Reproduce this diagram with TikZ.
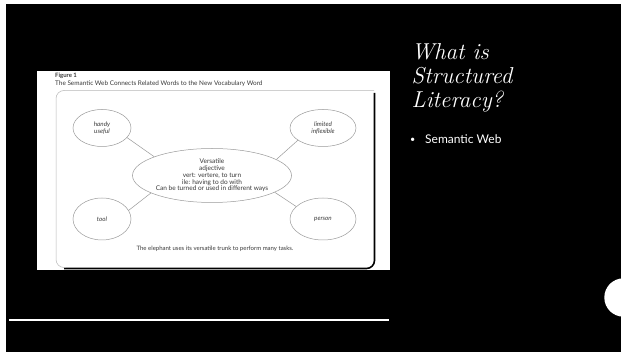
\documentclass[tikz,border=0pt]{standalone}
\usepackage{fontspec}
\setmainfont{Latin Modern Roman}
\newfontfamily\figfont{Lato}
\newfontfamily\slidefont{Lato}
\usetikzlibrary{shapes.geometric}

\definecolor{ink}{HTML}{3A3A3A}
\definecolor{rim}{HTML}{9A9A9A}

\tikzset{
  bubble/.style={ellipse, draw=rim, line width=0.5pt, inner sep=0pt,
                 font=\figfont\fontsize{6.3}{6.8}\selectfont\itshape,
                 text=ink, align=center},
  link/.style={draw=rim, line width=0.5pt},
  figtext/.style={font=\figfont\fontsize{6.4}{7}\selectfont, text=ink, inner sep=0pt},
  headline/.style={font=\fontsize{23}{24}\selectfont\itshape, text=white,
                   anchor=base west, inner sep=0pt},
}

\begin{document}
\begin{tikzpicture}[x=1pt, y=-1pt]
  % slide background
  \useasboundingbox (0,0) rectangle (621,352);
  \fill[black] (0,0) rectangle (621,352);
  \fill[white] (0,0) rectangle (6,352);
  \fill[white] (0,0) rectangle (621,4);

  % figure panel
  \fill[white] (37,71) rectangle (390,270);
  \node[figtext, anchor=west, font=\figfont\bfseries\fontsize{6}{7}\selectfont] (figno) at (55,75.5) {Figure 1};
  \node[figtext, anchor=west] (figcap) at (55,84) {The Semantic Web Connects Related Words to the New Vocabulary Word};

  % frame: square top corners, rounded bottom, dark drop edge
  \draw[black, line width=1.6pt, rounded corners=8pt] (374.5,93) -- (374.5,268.5) -- (64,268.5);
  \draw[rim!70, line width=0.5pt, rounded corners=8pt] (374,90.5) -- (56,90.5) -- (56,267.5) -- (66,267.5);

  % semantic web
  \node[bubble, minimum width=157pt, minimum height=54pt, font=\figfont\fontsize{6.5}{6.8}\selectfont] (core) at (212,175.5)
    {Versatile\\adjective\\vert: vertere, to turn\\ile: having to do with\\Can be turned or used in different ways};
  \node[bubble, minimum width=58pt, minimum height=37pt] (handy) at (102,128) {handy\\useful};
  \node[bubble, minimum width=66pt, minimum height=37pt] (limited) at (323,128) {limited\\inflexible};
  \node[bubble, minimum width=58pt, minimum height=42pt] (tool) at (102,219) {tool};
  \node[bubble, minimum width=66pt, minimum height=42pt] (person) at (323,219) {person};

  \draw[link] (handy.-21) -- (core.162);
  \draw[link] (limited.-154) -- (core.14);
  \draw[link] (tool.18) -- (core.196);
  \draw[link] (person.155) -- (core.-15);

  \node[figtext, font=\figfont\fontsize{6}{6.5}\selectfont] (moral) at (215,249)
    {The elephant uses its versatile trunk to perform many tasks.};

  % slide title and bullet
  \node[headline] (t1) at (411.5,59.3) {What is};
  \node[headline] (t2) at (411.5,83.3) {Structured};
  \node[headline] (t3) at (411.5,107.3) {Literacy?};
  \node[font=\slidefont\fontsize{9}{10}\selectfont, text=white, inner sep=0pt] (dot) at (412.7,140) {•};
  \node[font=\slidefont\fontsize{12}{14}\selectfont, text=white, anchor=base west, inner sep=0pt] (bul) at (425,144) {Semantic Web};

  % rule and corner disc
  \draw[white, line width=2pt] (9,320) -- (389,320);
  \fill[white] (623.5,297.5) circle (19.2);
\end{tikzpicture}
\end{document}
